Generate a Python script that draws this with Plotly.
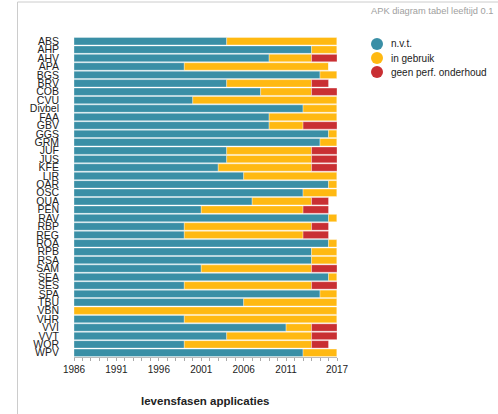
import plotly.graph_objects as go

apps = ["ABS", "AHP", "AHV", "APA", "BGS", "BRV", "COB", "CVU", "Divbel", "FAA",
        "GBV", "GGS", "GRM", "JUF", "JUS", "KFE", "LIR", "OAR", "OSC", "OUA",
        "PEN", "RAV", "RBP", "REG", "ROA", "RPB", "RSA", "SAM", "SEA", "SES",
        "SPA", "TBU", "VBN", "VHR", "VVI", "VVT", "WOR", "WPV"]
nvt_end = [2004, 2014, 2009, 1999, 2015, 2004, 2008, 2000, 2013, 2009,
           2009, 2016, 2015, 2004, 2004, 2003, 2006, 2016, 2013, 2007,
           2001, 2016, 1999, 1999, 2016, 2014, 2014, 2001, 2016, 1999,
           2015, 2006, 1986, 1999, 2011, 2004, 1999, 2013]
gebruik_end = [2017, 2017, 2014, 2016, 2017, 2014, 2014, 2017, 2017, 2017,
               2013, 2017, 2017, 2014, 2014, 2014, 2017, 2017, 2017, 2014,
               2013, 2017, 2014, 2013, 2017, 2017, 2017, 2014, 2017, 2014,
               2017, 2017, 2017, 2017, 2014, 2014, 2014, 2017]
geen_end = [None, None, 2017, None, None, 2016, 2017, None, None, None,
            2017, None, None, 2017, 2017, 2017, None, None, None, 2016,
            2016, None, 2016, 2016, None, None, None, 2017, None, 2017,
            None, None, None, None, 2017, 2017, 2016, None]
start_year = 1986
tick_years = [1986, 1991, 1996, 2001, 2006, 2011, 2017]
series_names = ["n.v.t.", "in gebruik", "geen perf. onderhoud"]
colors = ["#3a8fa6", "#ffb912", "#c92f33"]

seg_base = [[start_year] * len(apps), nvt_end, gebruik_end]
seg_end = [nvt_end, gebruik_end, [g if g is not None else e for g, e in zip(geen_end, gebruik_end)]]

fig = go.Figure()
outline = dict(color="rgba(255,255,255,0.55)", width=0.6)
for name, col, b, e in zip(series_names, colors, seg_base, seg_end):
    fig.add_trace(go.Bar(
        y=apps, x=[ee - bb for bb, ee in zip(b, e)], base=b, orientation="h",
        marker=dict(color=col, line=outline), name=name, showlegend=False,
        hoverinfo="skip"))

W, H = 498, 414
L, R, T, B = 74, 337, 37, 357

def px(x):
    return (x - L) / (R - L)

def py(y):
    return (B - y) / (B - T)

shapes = [
    dict(type="line", xref="paper", yref="paper", x0=px(17.5), x1=px(17.5), y0=py(2), y1=py(414),
         line=dict(color="#cccccc", width=1)),
    dict(type="line", xref="paper", yref="paper", x0=px(17.5), x1=px(498), y0=py(2), y1=py(2),
         line=dict(color="#cccccc", width=1)),
]
annotations = [
    dict(text="APK diagram tabel leeftijd 0.1", xref="paper", yref="paper",
         x=px(495), y=py(11), xanchor="right", yanchor="middle", showarrow=False,
         font=dict(size=9.3, color="#a0a0a0")),
    dict(text="<b>levensfasen applicaties</b>", xref="paper", yref="paper",
         x=px(205), y=py(401), xanchor="center", yanchor="middle", showarrow=False,
         font=dict(size=11.5, color="#222")),
]
# legend drawn with circles + labels
leg_y = [44, 58, 72]
for name, col, yy in zip(series_names, colors, leg_y):
    shapes.append(dict(type="circle", xref="paper", yref="paper",
                       x0=px(371), x1=px(383), y0=py(yy - 6), y1=py(yy + 6),
                       fillcolor=col, line=dict(width=0)))
    annotations.append(dict(text=name, xref="paper", yref="paper", x=px(389), y=py(yy),
                            xanchor="left", yanchor="middle", showarrow=False,
                            font=dict(size=10, color="#222")))

fig.update_layout(
    width=W, height=H,
    margin=dict(l=L, r=W - R, t=T, b=H - B, pad=0, autoexpand=False),
    paper_bgcolor="white", plot_bgcolor="white",
    font=dict(family="Liberation Sans, Arial, sans-serif", color="#222"),
    barmode="overlay", bargap=0.12, showlegend=False,
    xaxis=dict(range=[start_year, 2017], tickvals=tick_years, ticktext=[str(t) for t in tick_years],
               showgrid=False, zeroline=False, showline=True, linecolor="#bbbbbb", linewidth=1,
               ticks="outside", ticklen=3, tickcolor="#aaaaaa", tickfont=dict(size=10, color="#222"),
               minor=dict(dtick=1, tick0=1986, ticks="outside", ticklen=3, tickcolor="#aaaaaa", showgrid=False),
               fixedrange=True, automargin=False),
    yaxis=dict(autorange="reversed", tickmode="array", tickvals=apps, ticktext=apps,
               showgrid=False, zeroline=False, showline=False, ticks="",
               ticklabelstandoff=14, tickfont=dict(size=10.5, color="#222"), fixedrange=True,
               automargin=False),
    annotations=annotations,
    shapes=shapes,
)

fig.write_html("out.html", config={"displayModeBar": False},
               post_script="document.body.style.margin='0';")
